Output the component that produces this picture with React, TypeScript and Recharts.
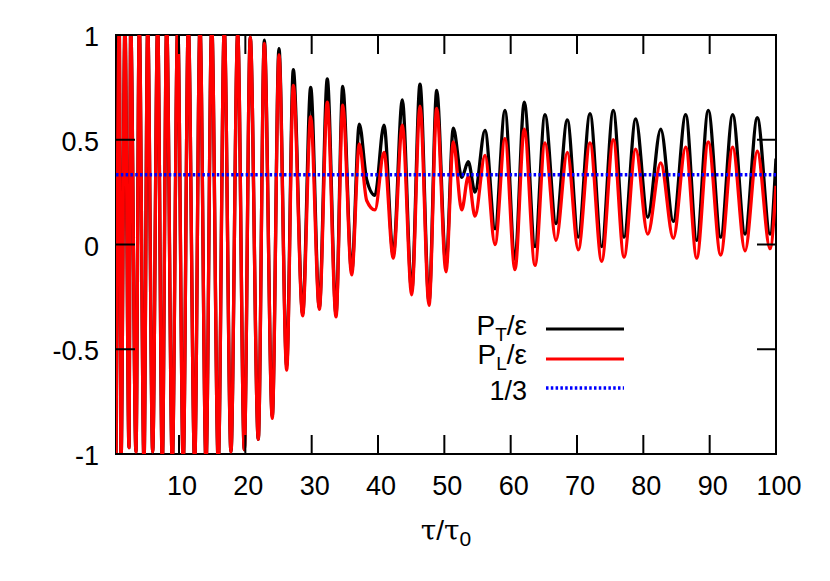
import React from "react";
import {
  LineChart,
  Line,
  XAxis,
  YAxis,
  ReferenceLine,
  ReferenceArea,
} from "recharts";

// extrema (tau / tau0)
const TAU = [
  0.5, 0.99, 1.25, 1.85, 2.46, 2.71, 3.51, 4.01, 4.72, 5.28,
  6.03, 6.78, 7.48, 8.14, 8.99, 9.8, 10.64, 11.4, 12.36, 13.16,
  14.07, 14.93, 15.92, 16.82, 17.83, 18.85, 19.84, 20.74, 21.95, 22.86,
  24.06, 25.07, 26.23, 27.23, 28.64, 29.85, 31.15, 32.35, 33.67, 34.68,
  36.03, 37.18, 38.29, 39.54, 40.9, 42.3, 43.66, 45.08, 46.33, 47.69,
  48.85, 50.25, 51.35, 52.62, 53.61, 54.62, 56.13, 57.64, 59.14, 60.65,
  62.05, 63.67, 65.17, 66.83, 68.54, 70.19, 71.96, 73.72, 75.47, 77.09,
  78.85, 80.66, 82.62, 84.52, 86.39, 88.05, 89.79, 91.66, 93.47, 95.33,
  97.18, 99.1, 100,
];

const P_T = [
  -1.05, 1.05, -1.05, 1.05, -0.97, 1.05, -0.99, 1.05, -1.05, 1.05,
  -0.99, 1.05, -1.05, 1.05, -1.05, 1.05, -1.05, 1.05, -1.05, 1.05,
  -1.05, 1.05, -1.05, 1.03, -0.99, 1.01, -0.98, 0.99, -0.93, 0.975,
  -0.82, 0.935, -0.58, 0.835, -0.33, 0.75, -0.3, 0.79, -0.33, 0.755,
  -0.13, 0.575, 0.31, 0.235, 0.57, -0.05, 0.69, -0.22, 0.765, -0.27,
  0.735, -0.1, 0.555, 0.32, 0.395, 0.25, 0.545, 0.075, 0.64, -0.07,
  0.68, -0.01, 0.62, 0.1, 0.595, 0.035, 0.625, -0.01, 0.64, 0.035,
  0.6, 0.13, 0.55, 0.11, 0.62, 0.02, 0.64, 0.035, 0.62, 0.05,
  0.605, 0.05, 0.41,
];

const P_L = [
  -1.05, 1.05, -1.05, 1.05, -0.97, 1.05, -0.99, 1.05, -1.05, 1.05,
  -0.99, 1.05, -1.05, 1.05, -1.05, 1.05, -1.05, 1.05, -1.05, 1.05,
  -1.05, 1.05, -1.05, 1.03, -0.99, 1.01, -0.98, 0.99, -0.93, 0.96,
  -0.83, 0.905, -0.6, 0.76, -0.34, 0.61, -0.31, 0.68, -0.345, 0.665,
  -0.145, 0.48, 0.21, 0.165, 0.44, -0.065, 0.57, -0.24, 0.66, -0.29,
  0.65, -0.13, 0.49, 0.165, 0.325, 0.135, 0.425, 0.0, 0.505, -0.12,
  0.55, -0.1, 0.485, 0.02, 0.44, -0.025, 0.485, -0.08, 0.5, -0.06,
  0.455, 0.05, 0.39, 0.03, 0.465, -0.065, 0.49, -0.05, 0.465, -0.03,
  0.445, -0.02, 0.28,
];

const ONE_THIRD = 1 / 3;
const X_TICKS = [10, 20, 30, 40, 50, 60, 70, 80, 90, 100];
const Y_TICKS = [-1, -0.5, 0, 0.5, 1];

const rows = TAU.map((t, i) => ({ tau: t, pt: P_T[i], pl: P_L[i] }));

// plot box inside the svg
const PLOT_LEFT = 108;
const PLOT_RIGHT = 768;
const PLOT_TOP = 27;
const PLOT_BOTTOM = 446;
const TICK_LEN = 19;
const FONT = "'Liberation Sans', Arial, sans-serif";

function XTick({ x, payload }: any) {
  return (
    <g>
      <line x1={x} x2={x} y1={PLOT_BOTTOM} y2={PLOT_BOTTOM - TICK_LEN} stroke="#000" strokeWidth={2} />
      <line x1={x} x2={x} y1={PLOT_TOP} y2={PLOT_TOP + TICK_LEN} stroke="#000" strokeWidth={2} />
      <text x={x + 3} y={PLOT_BOTTOM + 41} textAnchor="middle" fontSize={27} fill="#000">
        {payload.value}
      </text>
    </g>
  );
}

function YTick({ y, payload }: any) {
  return (
    <g>
      <line x1={PLOT_LEFT} x2={PLOT_LEFT + TICK_LEN} y1={y} y2={y} stroke="#000" strokeWidth={2} />
      <line x1={PLOT_RIGHT} x2={PLOT_RIGHT - TICK_LEN} y1={y} y2={y} stroke="#000" strokeWidth={2} />
      <text x={PLOT_LEFT - 17} y={y + 11} textAnchor="end" fontSize={27} fill="#000">
        {payload.value}
      </text>
    </g>
  );
}

function Overlay() {
  return (
    <svg
      width={814}
      height={560}
      style={{ position: "absolute", left: 0, top: 0, pointerEvents: "none" }}
      fontFamily={FONT}
    >
      {/* legend */}
      <text x={519} y={327} textAnchor="end" fontSize={28}>
        P<tspan dy={6} fontSize={19}>T</tspan>
        <tspan dy={-6}>/ε</tspan>
      </text>
      <line x1={538} x2={616} y1={321} y2={321} stroke="#000" strokeWidth={3} />
      <text x={519} y={356} textAnchor="end" fontSize={28}>
        P<tspan dy={6} fontSize={19}>L</tspan>
        <tspan dy={-6}>/ε</tspan>
      </text>
      <line x1={538} x2={616} y1={351} y2={351} stroke="#ff0000" strokeWidth={3} />
      <text x={519} y={392} textAnchor="end" fontSize={27}>
        1/3
      </text>
      <line
        x1={538}
        x2={616}
        y1={380}
        y2={380}
        stroke="#0000ff"
        strokeWidth={3.5}
        strokeDasharray="2.5 2.3"
      />
      {/* x axis title */}
      <text x={438} y={532} textAnchor="middle" fontSize={28}>
        <tspan fontFamily="'DejaVu Serif', serif">τ</tspan>/
        <tspan fontFamily="'DejaVu Serif', serif">τ</tspan>
        <tspan dy={6} fontSize={21}>0</tspan>
      </text>
    </svg>
  );
}

export default function App() {
  return (
    <div style={{ position: "relative", width: 814, height: 560, fontFamily: FONT }}>
      <LineChart
        width={814}
        height={560}
        data={rows}
        margin={{ top: 27, right: 46, bottom: 54, left: 8 }}
      >
        <XAxis
          dataKey="tau"
          type="number"
          domain={[0.5, 100]}
          ticks={X_TICKS}
          allowDataOverflow
          height={60}
          axisLine={false}
          tickLine={false}
          tick={<XTick />}
          interval={0}
        />
        <YAxis
          type="number"
          domain={[-1, 1]}
          ticks={Y_TICKS}
          allowDataOverflow
          width={100}
          axisLine={false}
          tickLine={false}
          tick={<YTick />}
          interval={0}
        />
        <Line
          dataKey="pt"
          type="monotone"
          stroke="#000000"
          strokeWidth={3.3}
          dot={false}
          isAnimationActive={false}
        />
        <Line
          dataKey="pl"
          type="monotone"
          stroke="#ff0000"
          strokeWidth={3.3}
          dot={false}
          isAnimationActive={false}
        />
        <ReferenceLine
          y={ONE_THIRD}
          stroke="#0000ff"
          strokeWidth={3.5}
          strokeDasharray="2.5 2.3"
        />
        <ReferenceArea
          x1={0.5}
          x2={100}
          y1={-1}
          y2={1}
          fill="none"
          stroke="#000"
          strokeWidth={2}
          fillOpacity={0}
        />
      </LineChart>
      <Overlay />
    </div>
  );
}
